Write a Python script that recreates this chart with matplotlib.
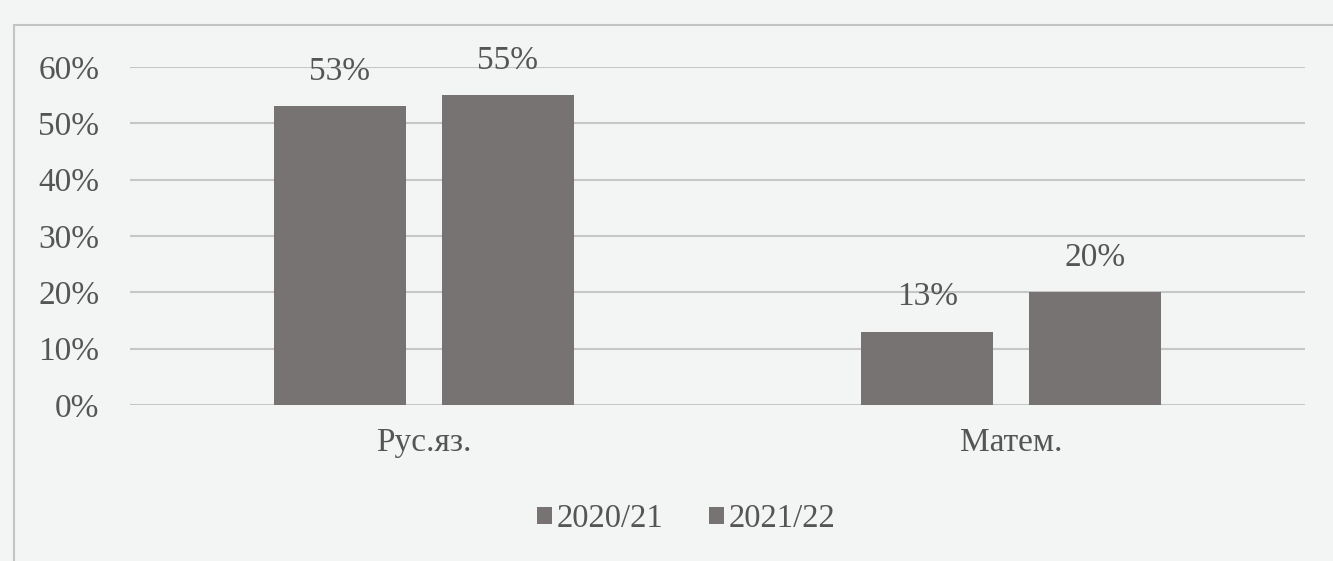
import matplotlib.pyplot as plt
from matplotlib.patches import Rectangle
import numpy as np

categories = ["Рус.яз.", "Матем."]
series = ["2020/21", "2021/22"]
values_2020 = [0.53, 0.13]
values_2021 = [0.55, 0.20]
labels_2020 = ["53%", "13%"]
labels_2021 = ["55%", "20%"]
yticks = [0, 0.1, 0.2, 0.3, 0.4, 0.5, 0.6]
ytick_labels = ["0%", "10%", "20%", "30%", "40%", "50%", "60%"]

plt.rcParams['font.family'] = ['Liberation Serif', 'DejaVu Serif']

bg = '#f3f4f4'
bar_color = '#777373'
text_color = '#555555'

fig = plt.figure(figsize=(13.33, 5.61), dpi=100, facecolor=bg)
ax = fig.add_axes([0.0975, 0.278, 0.8815, 0.6025], facecolor=bg)

# outer chart frame
fig.patches.append(Rectangle((0.0105, -0.1), 1.2, 1.055, transform=fig.transFigure,
                             fill=False, edgecolor='#c4c4c4', linewidth=1.5))

x = np.arange(len(categories))
w = 0.225
off = 0.143
b1 = ax.bar(x - off, values_2020, w, color=bar_color, label=series[0], zorder=3)
b2 = ax.bar(x + off, values_2021, w, color=bar_color, label=series[1], zorder=3)

for bars, labs in ((b1, labels_2020), (b2, labels_2021)):
    for rect, lab in zip(bars, labs):
        ax.annotate(lab, (rect.get_x() + rect.get_width() / 2, rect.get_height()),
                    textcoords="offset points", xytext=(0, 14), ha='center', va='bottom',
                    fontsize=24, color=text_color)

ax.set_xlim(-0.5, 1.5)
ax.set_ylim(0, 0.6)
ax.set_yticks(yticks)
ax.set_yticklabels(ytick_labels, fontsize=24, color=text_color)
ax.set_xticks(x)
ax.set_xticklabels(categories, fontsize=24, color=text_color)
ax.tick_params(axis='both', length=0)
ax.tick_params(axis='y', pad=22)
ax.tick_params(axis='x', pad=16)
ax.grid(axis='y', color='#c6c6c6', linewidth=1.5, zorder=0)
for s in ax.spines.values():
    s.set_visible(False)

leg = fig.legend(handles=[b1, b2], labels=series, loc='center', bbox_to_anchor=(0.515, 0.075),
                 ncol=2, frameon=False, fontsize=23.5, handlelength=0.45, handleheight=0.45,
                 handletextpad=0.15, columnspacing=1.4)
for t in leg.get_texts():
    t.set_color(text_color)

plt.savefig("out.png", dpi=100, facecolor=bg)
